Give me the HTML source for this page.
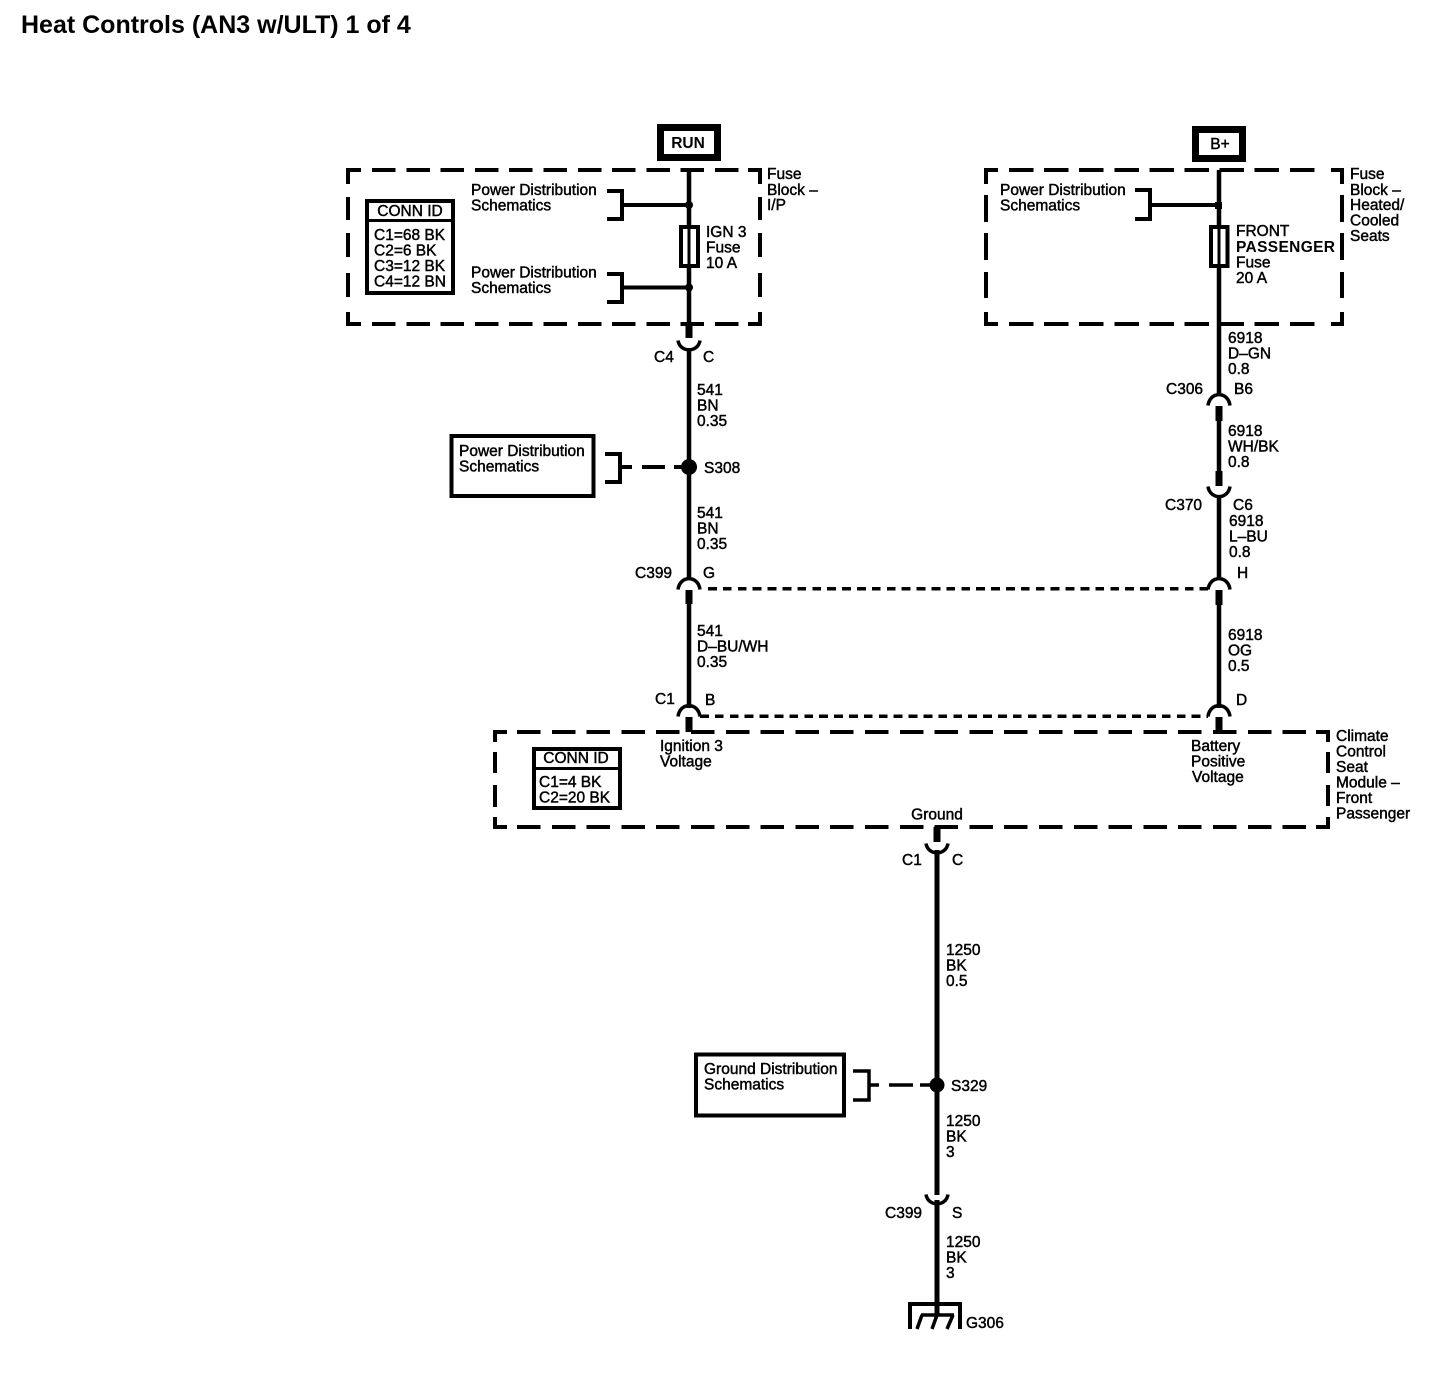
<!DOCTYPE html>
<html><head><meta charset="utf-8"><style>
html,body{margin:0;padding:0;background:#fff;width:1430px;height:1376px;overflow:hidden}
svg{display:block}
text{font-family:"Liberation Sans",sans-serif;font-size:15.5px;fill:#000;stroke:#000;stroke-width:.45}
.c{text-anchor:middle}
.w{fill:none;stroke:#000}
.d{fill:none;stroke:#000;stroke-width:4;shape-rendering:crispEdges}
.dot{stroke-width:3.5;stroke-dasharray:8.8 6.1;fill:none;stroke:#000;shape-rendering:crispEdges}
</style></head><body>
<svg width="1430" height="1376" viewBox="0 0 1430 1376" xmlns="http://www.w3.org/2000/svg">
<text x="21" y="33" style="font-size:25px;font-weight:bold;stroke-width:0">Heat Controls (AN3 w/ULT) 1 of 4</text>

<!-- RUN -->
<rect x="660.5" y="127.5" width="57" height="30" class="w" stroke-width="7"/>
<text x="688" y="148" class="c" style="font-weight:bold;stroke-width:0">RUN</text>
<!-- B+ -->
<rect x="1195.5" y="129.5" width="47" height="29" class="w" stroke-width="7"/>
<text x="1220" y="149" class="c">B+</text>

<!-- Fuse Block IP -->
<path class="d" d="M361 170H348V184M348 197V220M348 233V257M348 273V297M348 312V324H361M748 170H760V184M760 197V220M760 233V257M760 273V297M760 312V324H748"/>
<path class="d" style="stroke-dasharray:23.5 10.8" d="M372 170H740M372 324H740"/>
<!-- Fuse Block right -->
<path class="d" d="M998 170H986V184M986 195V222M986 233V260M986 272V298M986 312V324H998M1331 170H1342V184M1342 195V222M1342 233V260M1342 272V298M1342 312V324H1331"/>
<path class="d" style="stroke-dasharray:24.5 10.6" d="M1009 170H1322M1009 324H1322"/>
<!-- Module -->
<path class="d" d="M507 732H495V742M495 752V773M495 785V807M495 817V827H507M1316 732H1328V742M1328 752V773M1328 785V806M1328 817V827H1316"/>
<path class="d" style="stroke-dasharray:23.5 11.3" d="M517 732H1306M517 827H1306"/>

<!-- Conn ID 1 -->
<rect x="367" y="201" width="86" height="92" fill="#fff" stroke="#000" stroke-width="4"/>
<line x1="366" y1="220.5" x2="454" y2="220.5" stroke="#000" stroke-width="3"/>
<text x="410" y="216" class="c">CONN ID</text>
<text x="374" y="240">C1=68 BK</text>
<text x="374" y="255.5">C2=6 BK</text>
<text x="374" y="271">C3=12 BK</text>
<text x="374" y="286.5">C4=12 BN</text>

<!-- Top left distribution -->
<text x="471" y="195">Power Distribution</text>
<text x="471" y="210.5">Schematics</text>
<text x="471" y="277.5">Power Distribution</text>
<text x="471" y="293">Schematics</text>
<path d="M607 191H622V219H607M622 205H689M607 274H622V302H607M622 287.5H689" class="w" stroke-width="4"/>
<circle cx="689" cy="205" r="4"/><circle cx="689" cy="287.5" r="4"/>

<!-- left wire top -->
<line x1="689" y1="170" x2="689" y2="325" stroke="#000" stroke-width="4.5"/>
<rect x="681" y="227" width="17" height="39" fill="#fff" stroke="#000" stroke-width="4"/>
<line x1="689" y1="226" x2="689" y2="266" stroke="#000" stroke-width="3"/>
<rect x="685.500" y="322" width="7" height="16"/>
<text x="706" y="237">IGN 3</text><text x="706" y="252.5">Fuse</text><text x="706" y="268">10 A</text>
<text x="767" y="179">Fuse</text><text x="767" y="195">Block –</text><text x="767" y="210">I/P</text>

<!-- C4 cup -->
<path d="M678 340.500C680 353 698 353 700 340.500" class="w" stroke-width="3.500"/>
<line x1="689" y1="348" x2="689" y2="580" stroke="#000" stroke-width="4.500"/>
<text x="654" y="362">C4</text><text x="703" y="362">C</text>
<text x="697" y="395">541</text><text x="697" y="410.5">BN</text><text x="697" y="426">0.35</text>

<!-- S308 -->
<rect x="451.500" y="436" width="142" height="60" fill="none" stroke="#000" stroke-width="4"/>
<text x="459" y="456">Power Distribution</text><text x="459" y="471.5">Schematics</text>
<path d="M605 454H620V482H605M620 467H632M642 467H665M674 467H689" class="w" stroke-width="4"/>
<circle cx="689" cy="467" r="8"/>
<text x="704" y="473">S308</text>
<text x="697" y="518">541</text><text x="697" y="533.5">BN</text><text x="697" y="549">0.35</text>

<!-- C399 G -->
<text x="635" y="578">C399</text><text x="703" y="578">G</text>
<path d="M678 589.500C680 575 698 575 700 589.500" class="w" stroke-width="3.500"/>
<rect x="685.500" y="590" width="7" height="14"/>
<line x1="689" y1="600" x2="689" y2="708" stroke="#000" stroke-width="4.500"/>
<line x1="708" y1="588.500" x2="1208" y2="588.500" class="dot"/>
<text x="697" y="636">541</text><text x="697" y="651.5">D–BU/WH</text><text x="697" y="667">0.35</text>

<!-- C1 B -->
<text x="655" y="704">C1</text><text x="705" y="705">B</text>
<path d="M678 716.500C680 702 698 702 700 716.500" class="w" stroke-width="3.500"/>
<rect x="685.500" y="717" width="7" height="15"/>
<line x1="700" y1="716" x2="1208" y2="716" class="dot"/>

<!-- Right top -->
<text x="1000" y="195">Power Distribution</text><text x="1000" y="210.5">Schematics</text>
<path d="M1135 190H1150V219H1135M1150 205H1218" class="w" stroke-width="4"/>
<rect x="1215" y="202" width="7" height="7"/>
<line x1="1219" y1="170" x2="1219" y2="395" stroke="#000" stroke-width="4.500"/>
<rect x="1211" y="227" width="16.500" height="39" fill="#fff" stroke="#000" stroke-width="4"/>
<line x1="1219" y1="226" x2="1219" y2="266" stroke="#000" stroke-width="3"/>
<text x="1236" y="236">FRONT</text><text x="1236" y="252" style="font-weight:bold;stroke-width:0;letter-spacing:.35px">PASSENGER</text><text x="1236" y="267.5">Fuse</text><text x="1236" y="283">20 A</text>
<text x="1350" y="179">Fuse</text><text x="1350" y="195">Block –</text><text x="1350" y="210">Heated/</text><text x="1350" y="225.5">Cooled</text><text x="1350" y="241">Seats</text>
<text x="1228" y="343">6918</text><text x="1228" y="358.5">D–GN</text><text x="1228" y="374">0.8</text>

<!-- C306 B6 -->
<text x="1166" y="394">C306</text><text x="1234" y="394">B6</text>
<path d="M1208 405.500C1210 391 1228 391 1230 405.500" class="w" stroke-width="3.500"/>
<rect x="1215.500" y="406" width="7" height="15"/>
<line x1="1219" y1="415" x2="1219" y2="475" stroke="#000" stroke-width="4.500"/>
<rect x="1215.500" y="471" width="7" height="15"/>
<text x="1228" y="436">6918</text><text x="1228" y="451.500">WH/BK</text><text x="1228" y="467">0.8</text>

<!-- C370 C6 -->
<path d="M1208 486.500C1210 500 1228 500 1230 486.500" class="w" stroke-width="3.500"/>
<line x1="1219" y1="495" x2="1219" y2="580" stroke="#000" stroke-width="4.500"/>
<text x="1165" y="510">C370</text><text x="1233" y="510">C6</text>
<text x="1229" y="526">6918</text><text x="1229" y="541.500">L–BU</text><text x="1229" y="557">0.8</text>

<!-- H -->
<text x="1237" y="578">H</text>
<path d="M1208 589.500C1210 575 1228 575 1230 589.500" class="w" stroke-width="3.500"/>
<rect x="1215.500" y="590" width="7" height="15"/>
<line x1="1219" y1="600" x2="1219" y2="708" stroke="#000" stroke-width="4.500"/>
<text x="1228" y="640">6918</text><text x="1228" y="655.500">OG</text><text x="1228" y="671">0.5</text>

<!-- D -->
<text x="1236" y="705">D</text>
<path d="M1208 716.500C1210 702 1228 702 1230 716.500" class="w" stroke-width="3.500"/>
<rect x="1215.500" y="717" width="7" height="15"/>

<!-- Module contents -->
<rect x="534" y="749" width="86" height="59" fill="#fff" stroke="#000" stroke-width="4"/>
<line x1="533" y1="768.500" x2="621" y2="768.500" stroke="#000" stroke-width="3"/>
<text x="576" y="763" class="c">CONN ID</text>
<text x="539" y="787">C1=4 BK</text><text x="539" y="802.500">C2=20 BK</text>
<text x="660" y="751">Ignition 3</text><text x="660" y="766.500">Voltage</text>
<text x="1191" y="751">Battery</text><text x="1191" y="766.500">Positive</text><text x="1192" y="782">Voltage</text>
<text x="1336" y="741">Climate</text><text x="1336" y="756.500">Control</text><text x="1336" y="772">Seat</text><text x="1336" y="787.500">Module –</text><text x="1336" y="803">Front</text><text x="1336" y="818.500">Passenger</text>
<text x="937" y="819.500" class="c">Ground</text>

<!-- Lower wire -->
<rect x="933.500" y="827" width="7" height="15"/>
<path d="M926 843.500C928 856 946 856 948 843.500" class="w" stroke-width="3.500"/>
<line x1="937" y1="850" x2="937" y2="1195" stroke="#000" stroke-width="5"/>
<text x="902" y="865">C1</text><text x="952" y="865">C</text>
<text x="946" y="955">1250</text><text x="946" y="970.500">BK</text><text x="946" y="986">0.5</text>

<!-- S329 -->
<rect x="696" y="1054.500" width="148" height="61" fill="none" stroke="#000" stroke-width="4"/>
<text x="704" y="1074">Ground Distribution</text><text x="704" y="1089.500">Schematics</text>
<path d="M853 1071H869V1100H853M869 1085H879M889 1085H913M920 1085H937" class="w" stroke-width="3.500"/>
<circle cx="937" cy="1085" r="7.500"/>
<text x="951" y="1091">S329</text>
<text x="946" y="1126">1250</text><text x="946" y="1141.500">BK</text><text x="946" y="1157">3</text>

<!-- C399 S -->
<path d="M926 1194.500C928 1207 946 1207 948 1194.500" class="w" stroke-width="3.500"/>
<line x1="937" y1="1200" x2="937" y2="1314" stroke="#000" stroke-width="5"/>
<text x="885" y="1218">C399</text><text x="952" y="1218">S</text>
<text x="946" y="1247">1250</text><text x="946" y="1262.500">BK</text><text x="946" y="1278">3</text>

<!-- Ground -->
<path d="M910 1329V1304H960V1329" class="w" stroke-width="4"/>
<path d="M921 1315H954M922 1315L917 1329M937 1315L932 1329M953 1315L947 1329" class="w" stroke-width="3.500"/>
<text x="966" y="1328">G306</text>
</svg>
</body></html>
